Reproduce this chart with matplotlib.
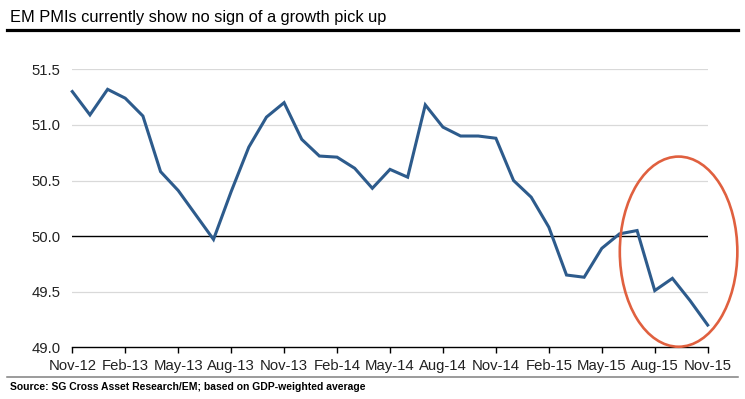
import matplotlib.pyplot as plt
from matplotlib.patches import Ellipse
from matplotlib.lines import Line2D

plt.rcParams['font.family'] = ['Liberation Sans', 'DejaVu Sans']

# monthly EM PMI, Nov-12 .. Nov-15
months = ["Nov-12", "Dec-12", "Jan-13", "Feb-13", "Mar-13", "Apr-13", "May-13",
          "Jun-13", "Jul-13", "Aug-13", "Sep-13", "Oct-13", "Nov-13", "Dec-13",
          "Jan-14", "Feb-14", "Mar-14", "Apr-14", "May-14", "Jun-14", "Jul-14",
          "Aug-14", "Sep-14", "Oct-14", "Nov-14", "Dec-14", "Jan-15", "Feb-15",
          "Mar-15", "Apr-15", "May-15", "Jun-15", "Jul-15", "Aug-15", "Sep-15",
          "Oct-15", "Nov-15"]
pmi = [51.30, 51.09, 51.32, 51.24, 51.08, 50.58, 50.41,
       50.19, 49.97, 50.40, 50.80, 51.07, 51.20, 50.87,
       50.72, 50.71, 50.61, 50.43, 50.60, 50.53, 51.18,
       50.98, 50.90, 50.90, 50.88, 50.50, 50.35, 50.08,
       49.65, 49.63, 49.89, 50.02, 50.05, 49.51, 49.62,
       49.42, 49.20]
yticks = [49.0, 49.5, 50.0, 50.5, 51.0, 51.5]

W, H = 745, 399
fig = plt.figure(figsize=(W / 100, H / 100), dpi=100)

x0, x1 = 72.3, 707.7
ytop, ybot = 69.3, 347.3
ax = fig.add_axes([x0 / W, 1 - ybot / H, (x1 - x0) / W, (ybot - ytop) / H])

x = list(range(len(pmi)))
ax.plot(x, pmi, color="#2D5B8C", lw=2.2, solid_joinstyle="miter", clip_on=False, zorder=3)

ax.set_xlim(0, len(pmi) - 1)
ax.set_ylim(49.0, 51.5)
ax.set_yticks(yticks)
ax.set_yticklabels([f"{v:.1f}" for v in yticks])
ax.set_xticks(x[::3])
ax.set_xticklabels(months[::3])

for v in yticks[1:]:
    if v == 50.0:
        ax.axhline(v, color="black", lw=1.0, zorder=2)
    else:
        ax.axhline(v, color="#D9D9D9", lw=0.9, zorder=1)

for s in ["top", "right", "left"]:
    ax.spines[s].set_visible(False)
ax.spines["bottom"].set_color("black")
ax.spines["bottom"].set_linewidth(1.0)
ax.tick_params(axis="y", length=0, pad=8.5, labelsize=10.7, labelcolor="#222222")
ax.tick_params(axis="x", length=4, width=1.0, direction="out", pad=4.5,
               labelsize=10.7, labelcolor="#222222")

# highlight of the latest months
ax.add_patch(Ellipse((34.35, 49.86), 6.66, 1.71, fill=False, edgecolor="#E0603F",
                     lw=1.9, clip_on=False, zorder=4))

fig.text(10 / W, 1 - 21.7 / H, "EM PMIs currently show no sign of a growth pick up",
         fontsize=11.8, va="baseline", ha="left", color="black")
fig.add_artist(Line2D([7 / W, 738 / W], [1 - 30.3 / H, 1 - 30.3 / H], color="black", lw=2.3))
fig.add_artist(Line2D([7 / W, 738 / W], [1 - 377.3 / H, 1 - 377.3 / H], color="#808080", lw=1.1))
fig.text(10 / W, 1 - 389.5 / H, "Source: SG Cross Asset Research/EM; based on GDP-weighted average",
         fontsize=7.45, fontweight="bold", va="baseline", ha="left", color="black")

fig.savefig("out.png", dpi=100)
